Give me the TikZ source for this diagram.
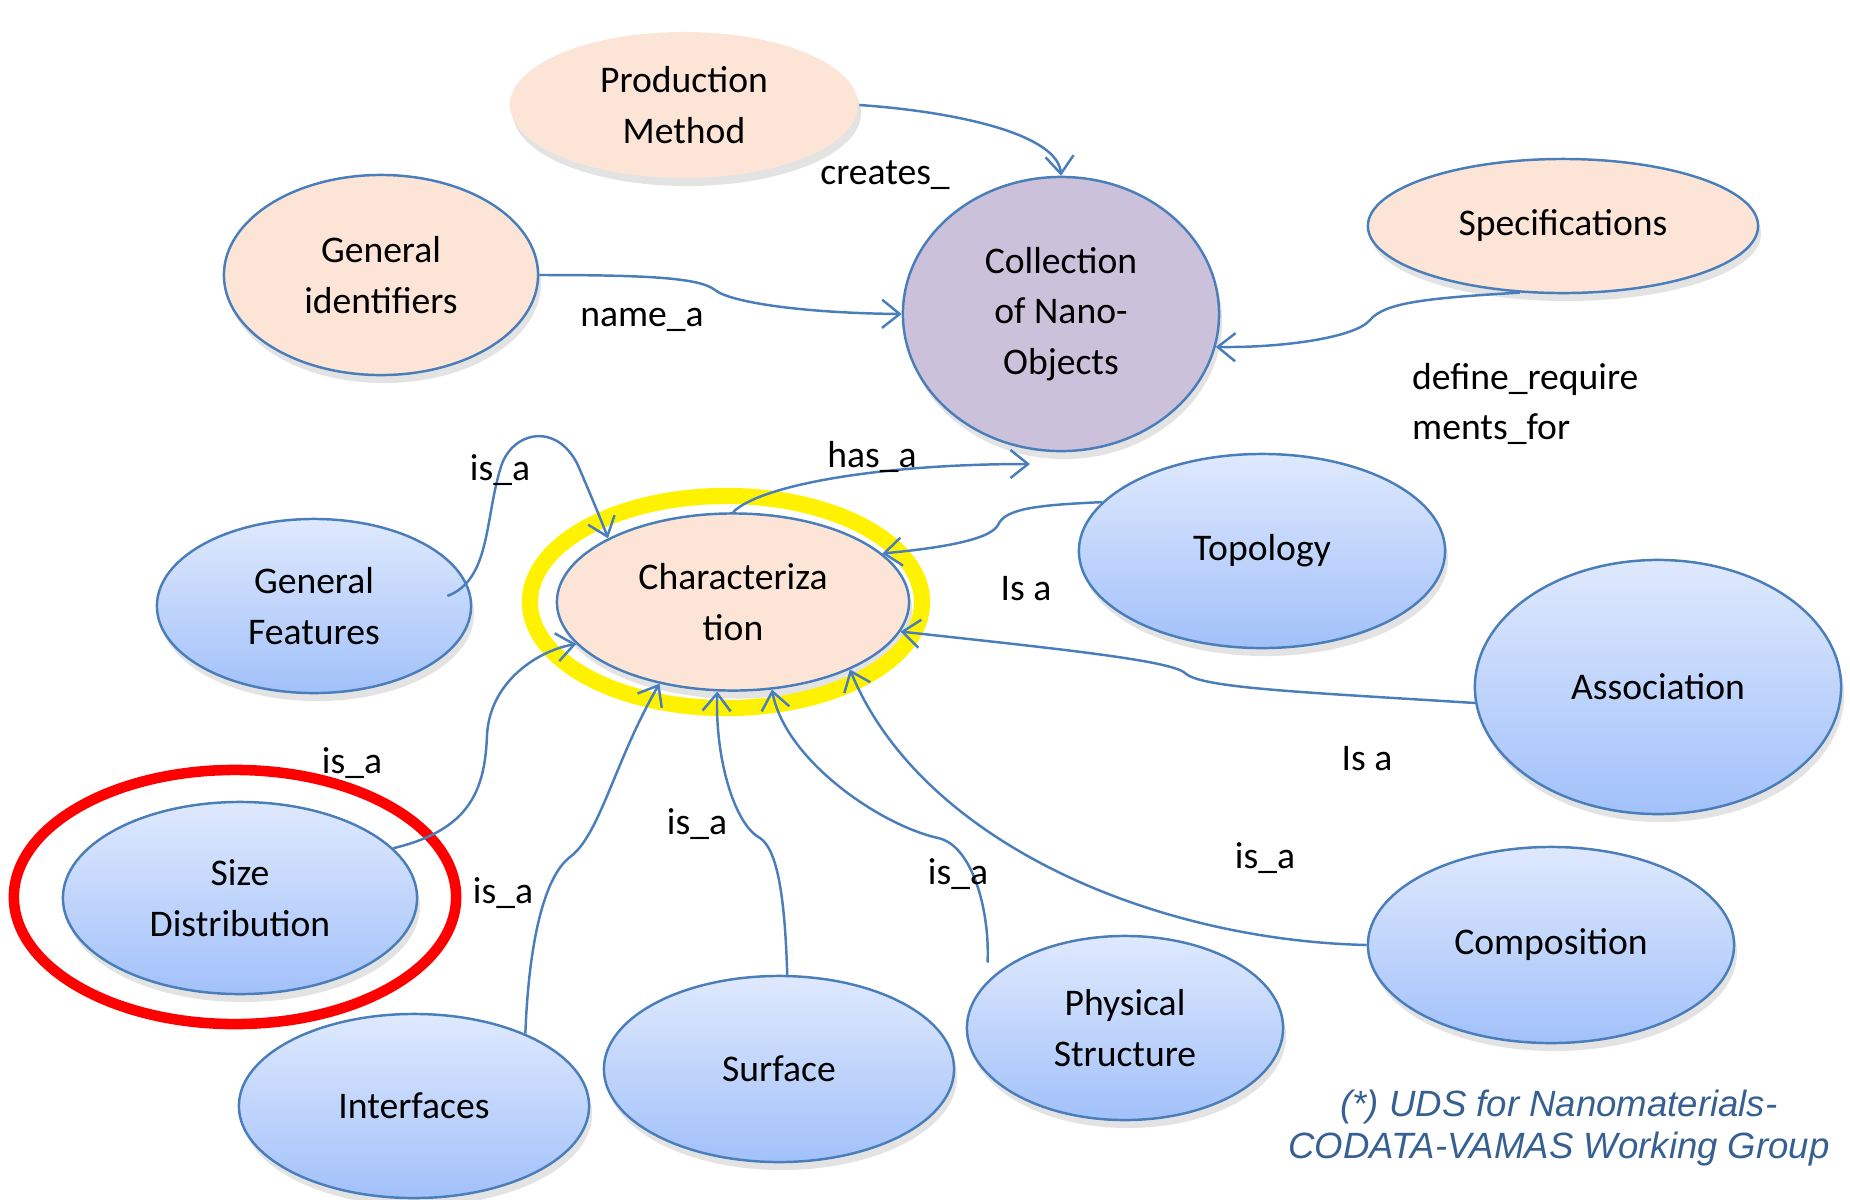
\documentclass[tikz,border=0pt]{standalone}
\usepackage{fontspec}
\setmainfont{Carlito}
\newfontfamily\capfont{Liberation Sans}
\usetikzlibrary{shapes.geometric,arrows.meta,shadows}
\definecolor{linkblue}{RGB}{74,126,187}
\definecolor{peach}{RGB}{252,229,214}
\definecolor{lilac}{RGB}{204,193,218}
\definecolor{skytop}{RGB}{223,233,253}
\definecolor{skybot}{RGB}{162,193,250}
\definecolor{capblue}{RGB}{55,96,146}
\newcommand{\nfont}{\fontsize{10.7}{14.4}\selectfont}
\tikzset{
  concept/.style={ellipse, draw=linkblue, line width=0.7pt, inner sep=0pt, align=center, font=\nfont,
    drop shadow={opacity=0.22, shadow xshift=0.3mm, shadow yshift=-0.8mm}},
  peachnode/.style={concept, fill=peach},
  featnode/.style={concept, top color=skytop, bottom color=skybot},
  rel/.style={linkblue, line width=0.7pt},
  relarrow/.style={rel, -{Straight Barb[length=5pt,width=8pt]}},
  lbl/.style={font=\nfont, inner sep=1pt},
}

\begin{document}
\begin{tikzpicture}[x=0.01cm,y=-0.01cm]
	\useasboundingbox (0,0) rectangle (1850,1199);
	
	\node[peachnode, draw=none, minimum width=3.48cm, minimum height=1.46cm] (prod) at (684,105) {Production\\Method};
	\node[peachnode, minimum width=3.14cm, minimum height=2.00cm] (gid) at (381,275) {General\\identifiers};
	\node[concept, fill=lilac, minimum width=3.16cm, minimum height=2.74cm] (coll) at (1061,314) {Collection\\of Nano-\\Objects};
	\node[peachnode, minimum width=3.90cm, minimum height=1.34cm] (spec) at (1563,226) {Specifications};
	\node[peachnode, minimum width=3.52cm, minimum height=1.77cm] (char) at (733,602) {Characteriza\\tion};
	\node[featnode, minimum width=3.14cm, minimum height=1.74cm] (gf) at (314,606) {General\\Features};
	\node[featnode, minimum width=3.66cm, minimum height=1.94cm] (topo) at (1262,551) {Topology};
	\node[featnode, minimum width=3.66cm, minimum height=2.54cm] (assoc) at (1658,687) {Association};
	\node[featnode, minimum width=3.54cm, minimum height=1.92cm] (size) at (240,898) {Size\\Distribution};
	\node[featnode, minimum width=3.50cm, minimum height=1.84cm] (inter) at (414,1106) {Interfaces};
	\node[featnode, minimum width=3.50cm, minimum height=1.86cm] (surf) at (779,1069) {Surface};
	\node[featnode, minimum width=3.16cm, minimum height=1.84cm] (phys) at (1125,1028) {Physical\\Structure};
	\node[featnode, minimum width=3.66cm, minimum height=1.96cm] (comp) at (1551,945) {Composition};
	
	\draw[yellow, line width=4.6pt] (726,602) ellipse [x radius=1.96cm, y radius=1.06cm];
	\draw[red, line width=3pt] (235,897) ellipse [x radius=2.21cm, y radius=1.27cm];
	
	\coordinate (hasend) at (1030,464);
	\draw[relarrow] (prod.east) .. controls (960,112) and (1058,135) .. (coll.north);
	\draw[relarrow] (gid.east) .. controls (650,275) and (700,278) .. (715,290) .. controls (730,302) and (800,313) .. (coll.west);
	\draw[relarrow] (spec.237) .. controls (1430,298) and (1385,302) .. (1370,320) .. controls (1355,338) and (1280,348) .. (coll.-12);
	\draw[relarrow] (char.north) .. controls (760,485) and (880,464) .. (hasend);
	\draw[relarrow] ([xshift=-0.25cm,yshift=0.1cm]gf.east) .. controls (490,580) and (485,520) .. (500,470) .. controls (510,430) and (560,420) .. (580,470) .. controls (595,505) and (605,530) .. (char.153);
	\draw[relarrow] (topo.163) .. controls (1040,505) and (1005,508) .. (998,525) .. controls (990,540) and (940,548) .. (char.18);
	\draw[relarrow] (assoc.185) .. controls (1300,692) and (1200,688) .. (1185,673) .. controls (1170,660) and (1050,648) .. (char.-10);
	\draw[relarrow] (comp.west) .. controls (1150,940) and (920,840) .. (char.-30);
	\draw[relarrow] ([xshift=-0.24cm]phys.150) .. controls (990,910) and (972,845) .. (938,838) .. controls (880,825) and (785,760) .. (char.-66);
	\draw[relarrow] (surf.85) .. controls (785,900) and (778,850) .. (760,838) .. controls (735,825) and (715,760) .. (char.-100);
	\draw[relarrow] (inter.33) .. controls (528,960) and (540,880) .. (570,857) .. controls (600,835) and (615,760) .. (char.-132);
	\draw[relarrow] (size.18) .. controls (470,830) and (485,790) .. (487,735) .. controls (490,680) and (540,650) .. (char.195);
	
	\node[lbl] (lcreates) at (885,175) {creates\_};
	\node[lbl] (lname) at (642,320) {name\_a};
	\node[lbl, align=left, anchor=west] (ldefine) at (1408,404) {define\_require\\ments\_for};
	\node[lbl] (lhas) at (872,457) {has\_a};
	\node[lbl] (lisgf) at (500,470) {is\_a};
	\node[lbl] (listopo) at (1026,589) {Is a};
	\node[lbl] (lissize) at (352,763) {is\_a};
	\node[lbl] (lisassoc) at (1367,759) {Is a};
	\node[lbl] (lissurf) at (697,824) {is\_a};
	\node[lbl] (lisinter) at (503,893) {is\_a};
	\node[lbl] (lisphys) at (958,874) {is\_a};
	\node[lbl] (liscomp) at (1265,858) {is\_a};
	
	\node[font=\capfont\itshape\fontsize{10.4}{11.9}\selectfont, text=capblue, align=center] (note) at (1559,1128) {(*) UDS for Nanomaterials-\\CODATA-VAMAS Working Group};
\end{tikzpicture}
\end{document}
